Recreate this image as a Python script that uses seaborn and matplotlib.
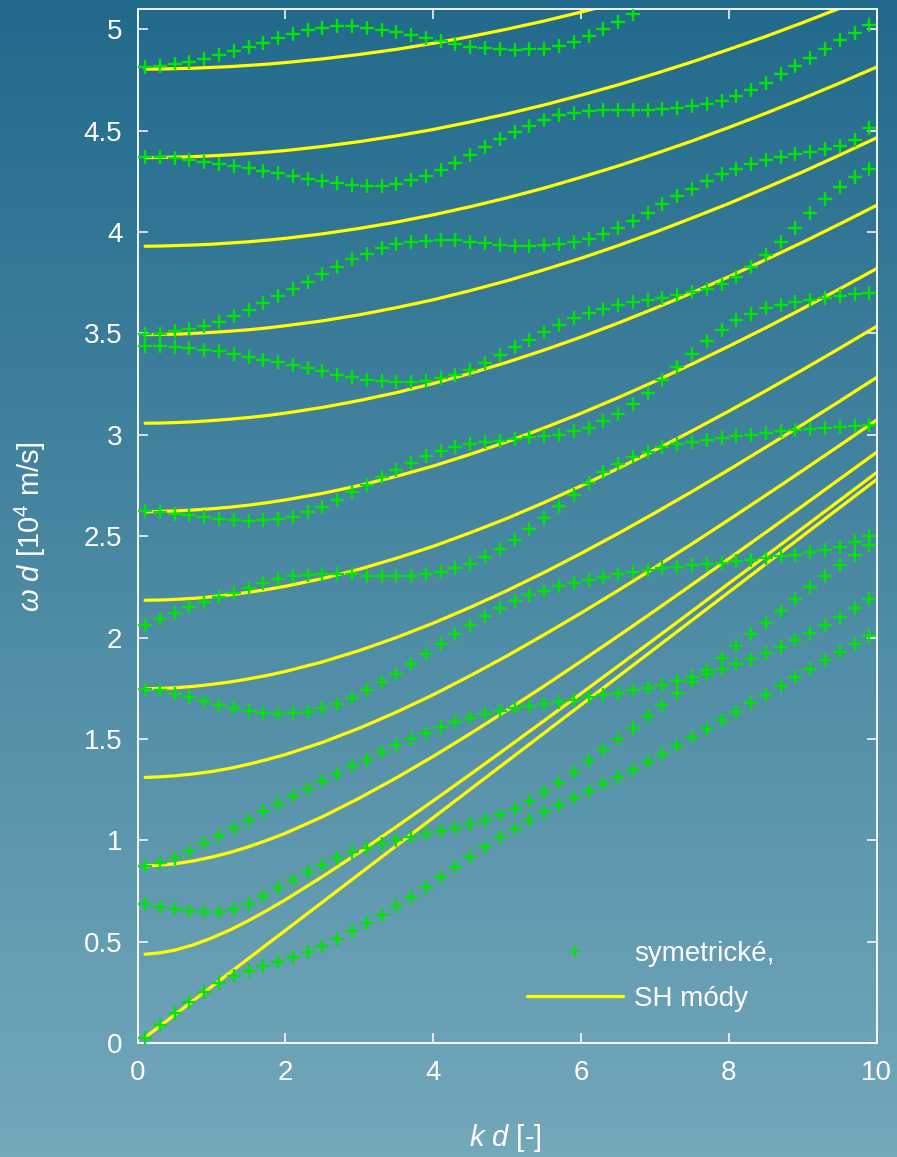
import numpy as np
import pandas as pd
import matplotlib
matplotlib.use('Agg')
import matplotlib.pyplot as plt
import seaborn as sns
from matplotlib.lines import Line2D
from matplotlib.colors import LinearSegmentedColormap

sns.set_style('ticks')
plt.rcParams['font.family'] = ['Liberation Sans', 'DejaVu Sans']
plt.rcParams['mathtext.fontset'] = 'custom'
plt.rcParams['mathtext.rm'] = 'Liberation Sans'
plt.rcParams['mathtext.it'] = 'Liberation Sans:italic'

# symetricke Lambovy mody, k d = 0.1 ... 9.9
kd_sym = [0.1, 0.3, 0.5, 0.7, 0.9, 1.1, 1.3, 1.5, 1.7, 1.9,
          2.1, 2.3, 2.5, 2.7, 2.9, 3.1, 3.3, 3.5, 3.7, 3.9,
          4.1, 4.3, 4.5, 4.7, 4.9, 5.1, 5.3, 5.5, 5.7, 5.9,
          6.1, 6.3, 6.5, 6.7, 6.9, 7.1, 7.3, 7.5, 7.7, 7.9,
          8.1, 8.3, 8.5, 8.7, 8.9, 9.1, 9.3, 9.5, 9.7, 9.9]

s1 = [0.026, 0.087, 0.146, 0.200, 0.252, 0.295, 0.330, 0.357, 0.380, 0.402,
      0.424, 0.449, 0.479, 0.514, 0.551, 0.590, 0.631, 0.675, 0.722, 0.770,
      0.819, 0.869, 0.919, 0.968, 1.015, 1.058, 1.099, 1.138, 1.173, 1.207,
      1.241, 1.276, 1.311, 1.348, 1.386, 1.426, 1.467, 1.508, 1.549, 1.591,
      1.633, 1.676, 1.718, 1.760, 1.803, 1.845, 1.887, 1.928, 1.968, 2.009]
s2 = [0.684, 0.670, 0.659, 0.649, 0.645, 0.648, 0.661, 0.688, 0.724, 0.763,
      0.803, 0.842, 0.878, 0.911, 0.941, 0.964, 0.982, 0.999, 1.015, 1.030,
      1.044, 1.060, 1.078, 1.100, 1.125, 1.156, 1.194, 1.237, 1.285, 1.336,
      1.390, 1.445, 1.500, 1.556, 1.613, 1.669, 1.726, 1.783, 1.841, 1.899,
      1.957, 2.015, 2.072, 2.130, 2.189, 2.247, 2.302, 2.358, 2.409, 2.455]
s3 = [0.875, 0.887, 0.915, 0.949, 0.986, 1.023, 1.063, 1.101, 1.142, 1.180,
      1.216, 1.252, 1.290, 1.328, 1.364, 1.397, 1.434, 1.468, 1.499, 1.530,
      1.558, 1.583, 1.605, 1.622, 1.639, 1.652, 1.662, 1.672, 1.682, 1.693,
      1.705, 1.715, 1.726, 1.739, 1.752, 1.767, 1.786, 1.803, 1.822, 1.845,
      1.869, 1.894, 1.923, 1.953, 1.986, 2.022, 2.061, 2.101, 2.145, 2.190]
s4 = [1.746, 1.739, 1.720, 1.705, 1.688, 1.668, 1.652, 1.636, 1.627, 1.622,
      1.626, 1.635, 1.651, 1.673, 1.704, 1.739, 1.779, 1.821, 1.868, 1.917,
      1.967, 2.016, 2.063, 2.107, 2.145, 2.178, 2.208, 2.232, 2.252, 2.269,
      2.285, 2.300, 2.312, 2.322, 2.332, 2.342, 2.350, 2.357, 2.363, 2.369,
      2.376, 2.384, 2.392, 2.400, 2.409, 2.421, 2.433, 2.447, 2.470, 2.499]
s5 = [2.063, 2.091, 2.121, 2.151, 2.176, 2.198, 2.219, 2.243, 2.267, 2.287,
      2.302, 2.310, 2.313, 2.313, 2.311, 2.306, 2.302, 2.302, 2.305, 2.311,
      2.322, 2.342, 2.365, 2.399, 2.437, 2.483, 2.533, 2.590, 2.647, 2.705,
      2.764, 2.815, 2.857, 2.890, 2.915, 2.940, 2.955, 2.965, 2.976, 2.986,
      2.994, 3.001, 3.009, 3.017, 3.024, 3.029, 3.034, 3.040, 3.045, 3.049]
s6 = [2.623, 2.619, 2.611, 2.602, 2.594, 2.586, 2.580, 2.577, 2.578, 2.585,
      2.597, 2.618, 2.645, 2.680, 2.716, 2.754, 2.792, 2.828, 2.863, 2.894,
      2.919, 2.940, 2.955, 2.965, 2.970, 2.978, 2.987, 2.993, 3.001, 3.017,
      3.034, 3.067, 3.105, 3.154, 3.207, 3.269, 3.335, 3.399, 3.462, 3.519,
      3.565, 3.598, 3.623, 3.642, 3.655, 3.667, 3.676, 3.684, 3.692, 3.700]
s7 = [3.437, 3.437, 3.434, 3.429, 3.420, 3.411, 3.400, 3.385, 3.371, 3.357,
      3.343, 3.327, 3.313, 3.297, 3.284, 3.272, 3.264, 3.259, 3.259, 3.266,
      3.279, 3.297, 3.322, 3.355, 3.392, 3.431, 3.470, 3.507, 3.541, 3.574,
      3.601, 3.621, 3.642, 3.656, 3.667, 3.676, 3.691, 3.705, 3.720, 3.745,
      3.779, 3.829, 3.886, 3.952, 4.021, 4.095, 4.161, 4.222, 4.271, 4.312]
s8 = [3.498, 3.498, 3.511, 3.523, 3.536, 3.556, 3.585, 3.615, 3.648, 3.686,
      3.720, 3.753, 3.791, 3.830, 3.865, 3.894, 3.921, 3.939, 3.950, 3.958,
      3.962, 3.960, 3.952, 3.944, 3.936, 3.931, 3.931, 3.934, 3.939, 3.950,
      3.967, 3.988, 4.021, 4.054, 4.095, 4.136, 4.177, 4.214, 4.251, 4.284,
      4.312, 4.334, 4.353, 4.368, 4.383, 4.396, 4.409, 4.424, 4.455, 4.515]
s9 = [4.370, 4.369, 4.363, 4.355, 4.346, 4.338, 4.328, 4.314, 4.302, 4.291,
      4.277, 4.263, 4.251, 4.240, 4.231, 4.227, 4.228, 4.238, 4.255, 4.276,
      4.306, 4.342, 4.382, 4.421, 4.457, 4.493, 4.523, 4.552, 4.575, 4.589,
      4.597, 4.602, 4.603, 4.603, 4.603, 4.605, 4.611, 4.621, 4.631, 4.646,
      4.671, 4.701, 4.737, 4.778, 4.819, 4.860, 4.903, 4.945, 4.984, 5.020]
s10 = [4.812, 4.819, 4.827, 4.840, 4.855, 4.872, 4.892, 4.911, 4.934, 4.958,
       4.979, 4.995, 5.008, 5.015, 5.016, 5.008, 4.997, 4.986, 4.972, 4.959,
       4.942, 4.927, 4.914, 4.908, 4.902, 4.899, 4.901, 4.905, 4.918, 4.937,
       4.966, 5.000, 5.036, 5.074]

# SH mody
kd_sh = [0.1, 0.3, 0.5, 0.75, 1.0, 1.25, 1.5, 1.75, 2.0, 2.5, 3.0, 3.5, 4.0, 4.5, 5.0,
         5.5, 6.0, 6.5, 7.0, 7.5, 8.0, 8.5, 9.0, 9.5, 10.0]
sh0 = [0.028, 0.083, 0.139, 0.209, 0.278, 0.348, 0.417, 0.487, 0.556, 0.695, 0.834,
       0.973, 1.112, 1.251, 1.390, 1.529, 1.668, 1.807, 1.946, 2.085, 2.224, 2.363,
       2.502, 2.641, 2.780]
sh1 = [0.438, 0.445, 0.458, 0.484, 0.518, 0.558, 0.604, 0.654, 0.707, 0.821, 0.941,
       1.067, 1.195, 1.325, 1.457, 1.590, 1.724, 1.859, 1.994, 2.130, 2.267, 2.403,
       2.540, 2.677, 2.814]
sh2 = [0.874, 0.877, 0.884, 0.898, 0.917, 0.940, 0.968, 1.000, 1.035, 1.116, 1.208,
       1.308, 1.414, 1.526, 1.642, 1.761, 1.883, 2.007, 2.133, 2.261, 2.389, 2.519,
       2.650, 2.782, 2.914]
sh3 = [1.310, 1.313, 1.318, 1.327, 1.339, 1.355, 1.375, 1.398, 1.423, 1.483, 1.553,
       1.632, 1.718, 1.812, 1.910, 2.014, 2.121, 2.232, 2.346, 2.462, 2.581, 2.702,
       2.824, 2.948, 3.073]
sh4 = [1.747, 1.749, 1.752, 1.759, 1.769, 1.781, 1.796, 1.813, 1.833, 1.880, 1.936,
       2.000, 2.071, 2.149, 2.232, 2.321, 2.415, 2.513, 2.615, 2.720, 2.828, 2.939,
       3.051, 3.166, 3.283]
sh5 = [2.184, 2.185, 2.188, 2.193, 2.201, 2.211, 2.223, 2.237, 2.253, 2.291, 2.337,
       2.391, 2.450, 2.517, 2.588, 2.666, 2.748, 2.834, 2.925, 3.019, 3.117, 3.217,
       3.321, 3.427, 3.535]
sh6 = [2.620, 2.622, 2.624, 2.629, 2.635, 2.643, 2.653, 2.665, 2.679, 2.711, 2.750,
       2.795, 2.846, 2.904, 2.966, 3.034, 3.106, 3.183, 3.264, 3.349, 3.437, 3.528,
       3.623, 3.720, 3.820]
sh7 = [3.057, 3.058, 3.060, 3.064, 3.070, 3.077, 3.085, 3.095, 3.107, 3.135, 3.169,
       3.208, 3.253, 3.303, 3.358, 3.418, 3.482, 3.551, 3.624, 3.700, 3.780, 3.864,
       3.950, 4.040, 4.132]
sh8 = [3.494, 3.495, 3.496, 3.500, 3.505, 3.511, 3.518, 3.527, 3.538, 3.562, 3.592,
       3.627, 3.666, 3.711, 3.760, 3.814, 3.871, 3.933, 3.999, 4.069, 4.141, 4.218,
       4.297, 4.380, 4.465]
sh9 = [3.930, 3.931, 3.933, 3.936, 3.940, 3.946, 3.952, 3.960, 3.969, 3.991, 4.018,
       4.049, 4.085, 4.125, 4.169, 4.217, 4.270, 4.326, 4.386, 4.449, 4.516, 4.586,
       4.659, 4.735, 4.814]
sh10 = [4.367, 4.368, 4.369, 4.372, 4.376, 4.381, 4.387, 4.394, 4.402, 4.422, 4.446,
        4.474, 4.506, 4.543, 4.583, 4.627, 4.675, 4.726, 4.781, 4.839, 4.901, 4.965,
        5.033, 5.104, 5.177]
sh11 = [4.804, 4.804, 4.806, 4.808, 4.812, 4.816, 4.822, 4.828, 4.836, 4.854, 4.876,
        4.901, 4.931, 4.964, 5.001, 5.041, 5.085, 5.132, 5.183]

sym_modes = [s1, s2, s3, s4, s5, s6, s7, s8, s9, s10]
sh_modes = [sh0, sh1, sh2, sh3, sh4, sh5, sh6, sh7, sh8, sh9, sh10, sh11]

sym = pd.concat([pd.DataFrame({'kd': kd_sym[:len(v)], 'wd': v, 'mod': i})
                 for i, v in enumerate(sym_modes)], ignore_index=True)
sh = pd.concat([pd.DataFrame({'kd': kd_sh[:len(v)], 'wd': v, 'n': i})
                for i, v in enumerate(sh_modes)], ignore_index=True)

green = '#00e600'
yellow = '#ffff00'

fig = plt.figure(figsize=(8.97, 11.57), dpi=100)

# gradient pozadi
bg = fig.add_axes([0, 0, 1, 1], zorder=-10)
cmap = LinearSegmentedColormap.from_list('bg', ['#226a8c', '#74a8bb'])
bg.imshow(np.linspace(0, 1, 256)[:, None], aspect='auto', cmap=cmap,
          extent=[0, 1, 0, 1], origin='upper')
bg.axis('off')

ax = fig.add_axes([0.1535, 0.0985, 0.8239, 0.8937])
ax.set_facecolor('none')

sns.lineplot(data=sh, x='kd', y='wd', units='n', estimator=None, sort=False,
             color=yellow, lw=2.3, legend=False, ax=ax)
sns.scatterplot(data=sym, x='kd', y='wd', marker='+', color=green, s=90,
                linewidth=1.7, legend=False, ax=ax, zorder=3)

ax.set_xlim(0, 10)
ax.set_ylim(0, 5.1)
ax.set_xticks([0, 2, 4, 6, 8, 10])
ax.set_xticklabels(['0', '2', '4', '6', '8', '10'])
yt = [0, 0.5, 1, 1.5, 2, 2.5, 3, 3.5, 4, 4.5, 5]
ax.set_yticks(yt)
ax.set_yticklabels(['0', '0.5', '1', '1.5', '2', '2.5', '3', '3.5', '4', '4.5', '5'])

for sp in ax.spines.values():
    sp.set_visible(True)
    sp.set_color('white')
    sp.set_linewidth(1.3)
ax.tick_params(axis='both', which='both', direction='in', length=7, width=1.1,
               colors='white', labelcolor='white', labelsize=20,
               top=True, right=True)
ax.tick_params(axis='x', pad=12)
ax.tick_params(axis='y', pad=11)

ax.set_xlabel(r'$k\ d$ [-]', color='white', fontsize=21)
ax.set_ylabel(r'$\omega\ d$ [10$^4$ m/s]', color='white', fontsize=21)
ax.xaxis.set_label_coords(0.497, -0.076)
ax.yaxis.set_label_coords(-0.122, 0.5)

handles = [Line2D([], [], ls='none', marker='+', color=green, ms=9, mew=1.2),
           Line2D([], [], color=yellow, lw=2.3)]
ax.legend(handles, ['symetrické,', 'SH módy'], frameon=False, labelcolor='white',
          fontsize=20, handlelength=3.45, handletextpad=0.4, labelspacing=0.68,
          loc='upper left', bbox_to_anchor=(0.527, 0.099), borderaxespad=0,
          borderpad=0)

fig.savefig('out.png', dpi=100)
